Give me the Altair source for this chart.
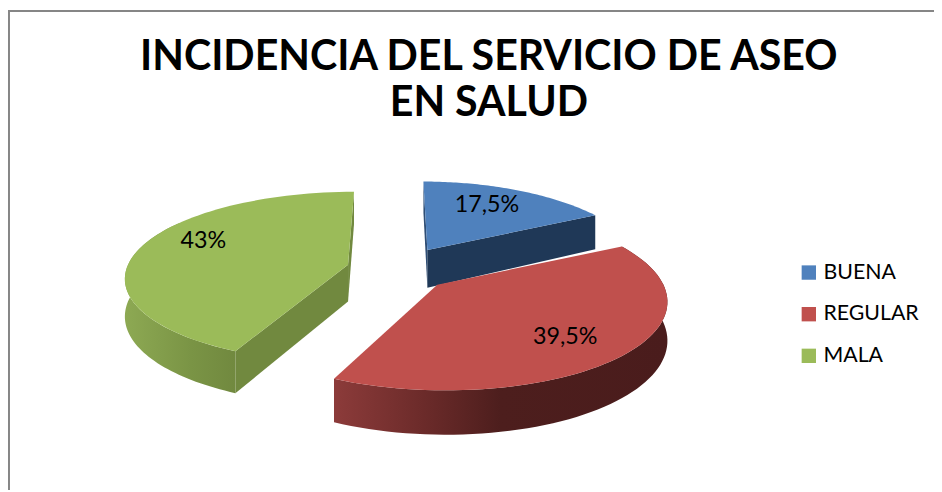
import numpy as np
import pandas as pd
import altair as alt

categories = ["BUENA", "REGULAR", "MALA"]
values = [17.5, 39.5, 43.0]
labels = ["17,5%", "39,5%", "43%"]
top_colors = ["#4F81BD", "#C0504D", "#9BBB59"]
title_lines = ["INCIDENCIA DEL SERVICIO DE ASEO", "EN SALUD"]

# 3D look of each exploded slice: apex x, apex y, x radius, y radius, perspective, shear, depth
views = {
    "BUENA": (427, 250, 213, 85.6, 0.24, -4, 38),
    "REGULAR": (437, 285, 228, 90.6, 0.15, -9, 38),
    "MALA": (347, 265, 222, 84, 0.14, 6, 37),
}
label_x = [487, 566, 201]
label_y = [205, 338, 241]

cum = np.concatenate([[0], np.cumsum(values)]) / sum(values) * 2 * np.pi
spans = dict(zip(categories, zip(cum[:-1], cum[1:])))


def proj(cat, th, r=1.0, down=False):
    ax, ay, a, b, k, sh, d = views[cat]
    u, v = r * np.sin(th), r * np.cos(th)
    s = 1 / (1 + k * v)
    return ax + a * u * s + sh * v, ay - b * v * s + (d * s if down else 0)


def arc(cat, t0, t1, down=False, n=70):
    xs, ys = proj(cat, np.linspace(t0, t1, n), 1.0, down)
    return list(zip(xs, ys))


def top(cat):
    t0, t1 = spans[cat]
    return [proj(cat, 0.0, 0.0)] + arc(cat, t0, t1)


def rim(cat, t0, t1):
    return arc(cat, t0, t1) + arc(cat, t0, t1, True)[::-1]


def face(cat, th):
    return [proj(cat, th, 0.0), proj(cat, th, 1.0), proj(cat, th, 1.0, True), proj(cat, th, 0.0, True)]


def grad(stops):
    return alt.LinearGradient(
        gradient="linear", x1=0, x2=1, y1=0, y2=0,
        stops=[alt.GradientStop(offset=o, color=c) for o, c in stops],
    )


X_SCALE = alt.Scale(domain=[4, 938], nice=False, zero=False)
Y_SCALE = alt.Scale(domain=[492, 8], nice=False, zero=False)


def poly(points, fill):
    df = pd.DataFrame(points, columns=["x", "y"]).assign(i=lambda t: range(len(t)))
    return alt.Chart(df).mark_line(fill=fill, strokeWidth=0, interpolate="linear").encode(
        x=alt.X("x:Q", scale=X_SCALE, axis=None),
        y=alt.Y("y:Q", scale=Y_SCALE, axis=None),
        order="i:Q",
    )


r0, r1 = spans["REGULAR"]
m0, m1 = spans["MALA"]
b0, b1 = spans["BUENA"]
layers = [
    poly(face("BUENA", 0.0), "#2F4E75"),
    poly(face("BUENA", b1), "#1F3857"),
    poly(top("BUENA"), top_colors[0]),
    poly(face("MALA", m1), "#71893F"),
    poly(rim("MALA", m0, m0 + 1.7), grad([(0, "#8DA953"), (0.6, "#7A9445"), (1, "#71893F")])),
    poly(face("MALA", m0), "#71893F"),
    poly(top("MALA"), top_colors[2]),
    poly(rim("REGULAR", r0, r1), grad([(0, "#8C3B3A"), (0.25, "#6E2C2B"), (0.5, "#4D1E1D"), (1, "#4A1C1C")])),
    poly(top("REGULAR"), top_colors[1]),
]

text_df = pd.DataFrame({"x": label_x, "y": label_y, "t": labels})
layers.append(
    alt.Chart(text_df).mark_text(font="Lato", fontSize=23.5, color="#000000").encode(
        x=alt.X("x:Q", scale=X_SCALE, axis=None),
        y=alt.Y("y:Q", scale=Y_SCALE, axis=None),
        text="t:N",
    )
)

legend_df = pd.DataFrame({"c": categories, "x": [500, 500, 500], "y": [300, 300, 300]})
layers.append(
    alt.Chart(legend_df).mark_point(shape="square", filled=True, size=0, opacity=0).encode(
        x=alt.X("x:Q", scale=X_SCALE, axis=None),
        y=alt.Y("y:Q", scale=Y_SCALE, axis=None),
        color=alt.Color(
            "c:N",
            scale=alt.Scale(domain=categories, range=top_colors),
            legend=alt.Legend(
                title=None, orient="none", legendX=797, legendY=254,
                symbolType="square", symbolSize=210, symbolStrokeWidth=0, symbolOpacity=1,
                labelFont="Lato", labelFontSize=21.5, labelColor="#000000",
                rowPadding=19, labelOffset=4, padding=0,
            ),
        ),
    )
)

frame_top = alt.Chart(pd.DataFrame({"a": [0]})).mark_rule(color="#868686", strokeWidth=2).encode(
    x=alt.value(0), x2=alt.value(934), y=alt.value(1)
)
frame_left = alt.Chart(pd.DataFrame({"a": [0]})).mark_rule(color="#868686", strokeWidth=2).encode(
    x=alt.value(1), y=alt.value(0), y2=alt.value(484)
)

chart = alt.layer(frame_top, frame_left, *layers).properties(
    width=934, height=484, padding=0, autosize=alt.AutoSizeParams(type="none"),
    title=alt.TitleParams(
        text=title_lines, font="Lato", fontSize=41.5, fontWeight="bold", color="#000000",
        anchor="middle", dx=18, offset=-116, lineHeight=46,
    ),
).configure_view(stroke=None)

chart.save("out.html", embed_options={"renderer": "svg", "actions": False})
